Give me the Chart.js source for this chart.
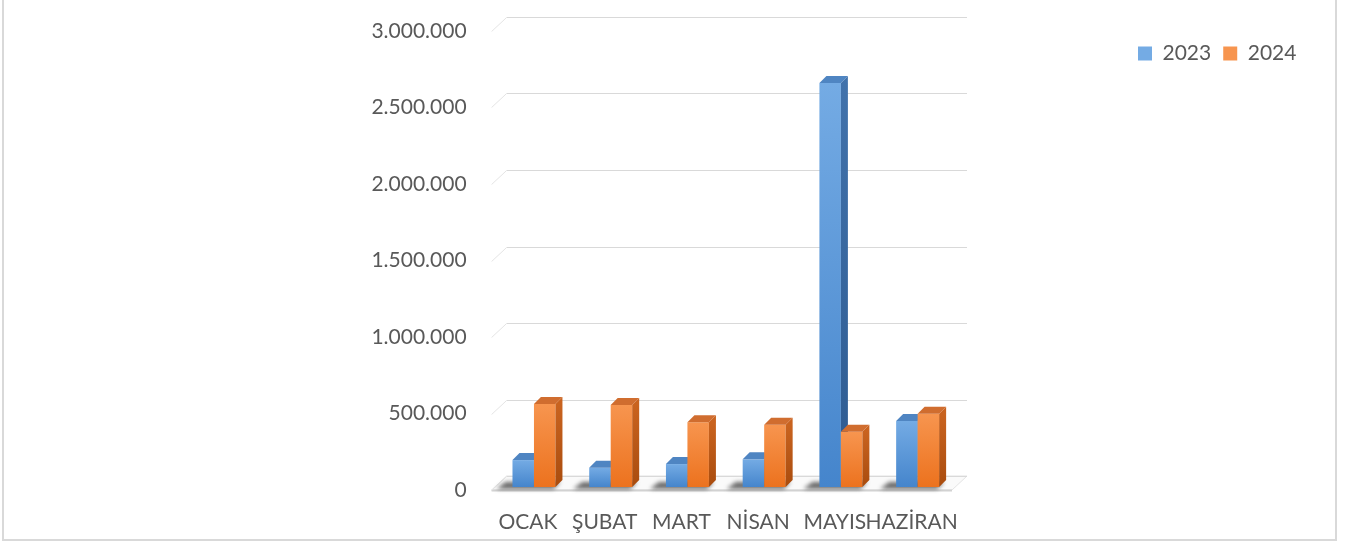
<!DOCTYPE html>
<html lang="tr">
<head>
<meta charset="UTF-8">
<title>2023 - 2024</title>
<script src="https://cdn.jsdelivr.net/npm/chart.js@4.4.1/dist/chart.umd.min.js"></script>
<style>
    html, body {
        margin: 0;
        padding: 0;
        background: #ffffff;
        overflow: hidden;
    }
    .frame {
        position: absolute;
        left: 2px;
        top: -10px;
        width: 1331px;
        height: 547px;
        border: 2px solid #d9d9d9;
    }
    #salesChart {
        position: absolute;
        left: 0;
        top: 0;
    }
</style>
</head>
<body>
<div class="frame"></div>
<canvas id="salesChart" width="1346" height="545"></canvas>

<script>
// Chart data
const months = ['OCAK', 'ŞUBAT', 'MART', 'NİSAN', 'MAYIS', 'HAZİRAN'];
const values2023 = [176000, 126000, 150000, 181000, 2640000, 431000];
const values2024 = [542000, 536000, 423000, 407000, 361000, 478000];
const seriesNames = ['2023', '2024'];
const yTickLabels = ['0', '500.000', '1.000.000', '1.500.000', '2.000.000', '2.500.000', '3.000.000'];

// Colours (front top / front bottom / side top / side bottom / top face)
const blueFace = ['#74abe4', '#4585cc', '#4172ab', '#2d5a90', '#4f85c2'];
const orangeFace = ['#f7954f', '#ec721e', '#c9631f', '#a94c0e', '#d06d2f'];

// 3D depth settings
const BAR_DEPTH = 7;
const WALL_SHIFT = 11;
const FRONT_X = 4;
const FRONT_Y = 3;

const textColor = '#595959';
const fontFamily = 'Lato, "Open Sans", sans-serif';
const fontSize = 21;

// Gradient for the bar front face
function frontGradient(context, colors) {
    if (context.type !== 'data' || !context.parsed) {
        return colors[1];
    }
    const chart = context.chart;
    const yScale = chart.scales.y;
    const top = yScale.getPixelForValue(context.parsed.y);
    const bottom = yScale.getPixelForValue(0);
    if (!isFinite(top) || !isFinite(bottom) || top === bottom) {
        return colors[1];
    }
    const g = chart.ctx.createLinearGradient(0, top, 0, bottom);
    g.addColorStop(0, colors[0]);
    g.addColorStop(1, colors[1]);
    return g;
}

function polygon(ctx, points) {
    ctx.beginPath();
    ctx.moveTo(points[0][0], points[0][1]);
    for (let i = 1; i < points.length; i++) {
        ctx.lineTo(points[i][0], points[i][1]);
    }
    ctx.closePath();
}

// Plugin for the 3D look: back wall grid, floor, shadows, side and top faces
const threeDPlugin = {
    id: 'threeD',
    beforeLayout(chart) {
        // legend keeps a fixed height so the plot top stays put
        const legend = chart.legend;
        if (legend && !legend._fixedFit) {
            const fit = legend.fit;
            legend.fit = function() {
                fit.call(this);
                this.height = 28;
            };
            legend._fixedFit = true;
        }
    },
    afterLayout(chart) {
        // move the legend to the upper right corner
        const legend = chart.legend;
        if (legend) {
            legend.left = 1126;
            legend.right = 1346;
            legend.top = 31;
            legend.bottom = 90;
        }
    },
    beforeDatasetsDraw(chart) {
        const { ctx, chartArea: a, scales } = chart;
        const yScale = scales.y;
        const y0 = yScale.getPixelForValue(0);

        ctx.save();

        // Floor
        polygon(ctx, [
            [a.left - FRONT_X, y0 + FRONT_Y],
            [a.right - FRONT_X, y0 + FRONT_Y],
            [a.right + WALL_SHIFT, y0 - WALL_SHIFT],
            [a.left + WALL_SHIFT, y0 - WALL_SHIFT]
        ]);
        ctx.fillStyle = '#fafafa';
        ctx.fill();
        ctx.strokeStyle = '#e3e3e3';
        ctx.lineWidth = 1;
        ctx.stroke();
        ctx.beginPath();
        ctx.moveTo(a.left - FRONT_X, y0 + FRONT_Y + 0.5);
        ctx.lineTo(a.right - FRONT_X, y0 + FRONT_Y + 0.5);
        ctx.strokeStyle = '#d2d2d2';
        ctx.lineWidth = 2;
        ctx.stroke();

        // Wall gridlines
        ctx.lineWidth = 1;
        yScale.ticks.forEach(tick => {
            const py = Math.round(yScale.getPixelForValue(tick.value)) + 0.5;
            ctx.strokeStyle = '#d9d9d9';
            ctx.beginPath();
            ctx.moveTo(a.left + WALL_SHIFT, py - WALL_SHIFT);
            ctx.lineTo(a.right + WALL_SHIFT, py - WALL_SHIFT);
            ctx.stroke();
            ctx.strokeStyle = '#e4e4e4';
            ctx.beginPath();
            ctx.moveTo(a.left - FRONT_X, py + FRONT_Y);
            ctx.lineTo(a.left + WALL_SHIFT, py - WALL_SHIFT);
            ctx.stroke();
        });

        // Shadows under the bar groups
        const first = chart.getDatasetMeta(0).data;
        const last = chart.getDatasetMeta(chart.data.datasets.length - 1).data;
        ctx.filter = 'blur(2px)';
        ctx.fillStyle = 'rgba(45, 45, 45, 0.7)';
        first.forEach((bar, i) => {
            const left = bar.x - bar.width / 2;
            const right = last[i].x + last[i].width / 2;
            polygon(ctx, [
                [left - 16, y0 + 2],
                [right - 2, y0 + 2],
                [right + 5, y0 - 5],
                [left - 7, y0 - 5]
            ]);
            ctx.fill();
        });
        ctx.filter = 'none';

        ctx.restore();
    },
    // skip default drawing, bars are drawn below in series order
    beforeDatasetDraw() {
        return false;
    },
    afterDatasetsDraw(chart) {
        const ctx = chart.ctx;
        ctx.save();
        chart.data.datasets.forEach((ds, d) => {
            const colors = d === 0 ? blueFace : orangeFace;
            chart.getDatasetMeta(d).data.forEach(bar => {
                const { x, y, base, width } = bar.getProps(['x', 'y', 'base', 'width'], true);
                const left = x - width / 2;
                const right = x + width / 2;

                // front face
                bar.draw(ctx, chart.chartArea);

                // side face
                const sg = ctx.createLinearGradient(0, y, 0, base);
                sg.addColorStop(0, colors[2]);
                sg.addColorStop(1, colors[3]);
                polygon(ctx, [
                    [right, y],
                    [right + BAR_DEPTH, y - BAR_DEPTH],
                    [right + BAR_DEPTH, base - BAR_DEPTH],
                    [right, base]
                ]);
                ctx.fillStyle = sg;
                ctx.fill();

                // top face
                polygon(ctx, [
                    [left, y],
                    [right, y],
                    [right + BAR_DEPTH, y - BAR_DEPTH],
                    [left + BAR_DEPTH, y - BAR_DEPTH]
                ]);
                ctx.fillStyle = colors[4];
                ctx.fill();
            });
        });
        ctx.restore();
    }
};

document.addEventListener('DOMContentLoaded', function() {
    const canvas = document.getElementById('salesChart');

    new Chart(canvas, {
        type: 'bar',
        data: {
            labels: months,
            datasets: [
                {
                    label: seriesNames[0],
                    data: values2023,
                    backgroundColor: (c) => frontGradient(c, blueFace),
                    borderWidth: 0
                },
                {
                    label: seriesNames[1],
                    data: values2024,
                    backgroundColor: (c) => frontGradient(c, orangeFace),
                    borderWidth: 0
                }
            ]
        },
        options: {
            responsive: false,
            animation: false,
            devicePixelRatio: 1,
            layout: {
                padding: { top: 0, left: 0, right: 390, bottom: 0 }
            },
            datasets: {
                bar: {
                    categoryPercentage: 0.56,
                    barPercentage: 1.0
                }
            },
            plugins: {
                legend: {
                    position: 'top',
                    align: 'start',
                    labels: {
                        boxWidth: 14,
                        boxHeight: 14,
                        padding: 12,
                        color: textColor,
                        font: { family: fontFamily, size: fontSize }
                    }
                },
                tooltip: { enabled: false }
            },
            scales: {
                x: {
                    grid: { display: false, drawTicks: false },
                    border: { display: false },
                    ticks: {
                        color: textColor,
                        font: { family: fontFamily, size: fontSize },
                        padding: 23,
                        labelOffset: -6,
                        autoSkip: false,
                        maxRotation: 0
                    },
                    afterFit: function(scale) {
                        scale.height = 58;
                    }
                },
                y: {
                    min: 0,
                    max: 3000000,
                    // tick marks hidden, their length only spaces the labels
                    grid: { display: false, drawTicks: true, tickLength: 29 },
                    border: { display: false },
                    ticks: {
                        stepSize: 500000,
                        color: textColor,
                        font: { family: fontFamily, size: fontSize },
                        padding: 0,
                        labelOffset: 3,
                        callback: function(value, index) {
                            return yTickLabels[index];
                        }
                    },
                    afterFit: function(scale) {
                        scale.width = 495.6;
                    }
                }
            }
        },
        plugins: [threeDPlugin]
    });
});
</script>
</body>
</html>
